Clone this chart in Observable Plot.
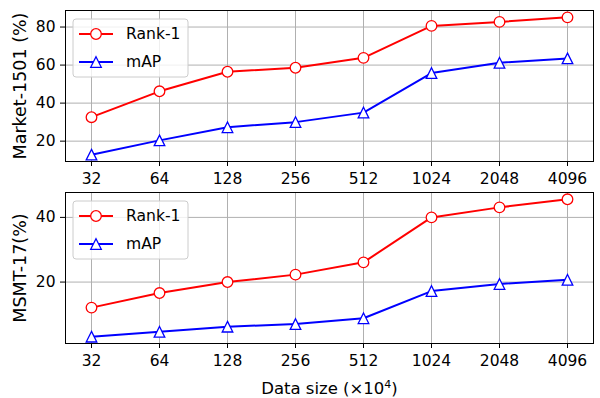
<!DOCTYPE html>
<html><head><meta charset="utf-8">
<script src="https://cdn.jsdelivr.net/npm/d3@7"></script>
<script src="https://cdn.jsdelivr.net/npm/@observablehq/plot@0.6"></script>
<style>
body{margin:0;background:#fff;}
#chart{position:relative;width:600px;height:398px;font-family:"DejaVu Sans";}
.panel{position:relative;width:600px;}
.panel svg{display:block;}
.panel svg.legend{position:absolute;left:0;top:0;pointer-events:none;}
</style></head><body><div id="chart"></div>
<script>
const sizes = ["32","64","128","256","512","1024","2048","4096"];
const seriesNames = ["Rank-1","mAP"];
const seriesColors = ["#ff0000","#0000ff"];
const marketRank1 = [32.6,46.2,56.5,58.6,63.8,80.6,82.7,85.1];
const marketMAP   = [12.9,20.4,27.3,30.0,35.0,55.8,61.2,63.5];
const msmtRank1   = [12.1,16.6,20.0,22.3,26.1,40.0,43.1,45.6];
const msmtMAP     = [3.1,4.6,6.2,7.0,8.8,17.2,19.4,20.7];
const marketTicks = [20,40,60,80];
const msmtTicks = [20,40];

const triangle = {draw(ctx, size){const r=Math.sqrt(size/Math.PI);ctx.moveTo(0,-r);ctx.lineTo(r,r);ctx.lineTo(-r,r);ctx.closePath();}};
const symbols = ["circle", triangle];

function panel({rank1, map, domain, ticks, label, height, marginTop, marginBottom, xLabel}){
  const series = [rank1, map];
  const data = series.flatMap((vals,k)=>sizes.map((s,i)=>({size:s,value:vals[i],series:seriesNames[k]})));
  const marks = [
    Plot.gridX(sizes,{stroke:"#b0b0b0",strokeOpacity:1,strokeWidth:1}),
    Plot.gridY(ticks,{stroke:"#b0b0b0",strokeOpacity:1,strokeWidth:1}),
  ];
  seriesNames.forEach((name,k)=>{
    const d = data.filter(r=>r.series===name);
    marks.push(Plot.line(d,{x:"size",y:"value",stroke:seriesColors[k],strokeWidth:2}));
    marks.push(Plot.dot(d,{x:"size",y:"value",r:5.3,symbol:symbols[k],fill:"white",stroke:seriesColors[k],strokeWidth:1.3}));
  });
  marks.push(Plot.frame({stroke:"black",strokeWidth:1}));
  marks.push(Plot.axisY(ticks,{tickSize:5,tickPadding:5,label,labelAnchor:"center",labelArrow:"none",labelOffset:52}));
  marks.push(Plot.axisX(sizes,{tickSize:5,tickPadding:6,label:xLabel??null,labelAnchor:"center",labelArrow:"none",labelOffset:50}));
  const p = Plot.plot({
    width:600,height,marginLeft:65,marginRight:7,marginTop,marginBottom,
    style:{fontFamily:"DejaVu Sans",fontSize:"15.5px",background:"white",color:"black",overflow:"visible"},
    x:{type:"point",domain:sizes,padding:0.35,label:null},
    y:{domain,label:null},
    marks
  });
  d3.select(p).selectAll("text").each(function(){
    const t = d3.select(this);
    const txt = t.text();
    if (txt === label) t.attr("font-size","17.5px");
    if (xLabel && txt === xLabel) {
      t.attr("font-size","16.5px");
      t.text(null);
      t.append("tspan").text(xLabel.slice(0,-2));
      t.append("tspan").attr("font-size","11px").attr("dy","-6px").text("4");
      t.append("tspan").attr("dy","6px").text(")");
    }
  });
  const wrap = document.createElement("div");
  wrap.className="panel";
  wrap.style.height=height+"px";
  wrap.appendChild(p);
  // legend
  const lg = d3.create("svg").attr("class","legend").attr("width",600).attr("height",height);
  const lx = 65+8, ly = marginTop+9;
  lg.append("rect").attr("x",lx).attr("y",ly).attr("width",115).attr("height",58).attr("rx",3)
    .attr("fill","white").attr("fill-opacity",0.8).attr("stroke","#cccccc").attr("stroke-width",1);
  seriesNames.forEach((name,k)=>{
    const y = ly+15+k*28;
    lg.append("line").attr("x1",lx+6).attr("x2",lx+40).attr("y1",y).attr("y2",y).attr("stroke",seriesColors[k]).attr("stroke-width",2);
    lg.append("path").attr("transform",`translate(${lx+23},${y})`)
      .attr("d",d3.symbol(k===0?d3.symbolCircle:triangle,5.3*5.3*Math.PI)())
      .attr("fill","white").attr("stroke",seriesColors[k]).attr("stroke-width",1.3);
    lg.append("text").attr("x",lx+53).attr("y",y).attr("dy","0.35em").attr("font-family","DejaVu Sans").attr("font-size","15.6px").text(name);
  });
  wrap.appendChild(lg.node());
  return wrap;
}

const chart = document.getElementById("chart");
chart.appendChild(panel({rank1:marketRank1,map:marketMAP,domain:[9.3,88.7],ticks:marketTicks,label:"Market-1501 (%)",height:190,marginTop:10,marginBottom:29}));
chart.appendChild(panel({rank1:msmtRank1,map:msmtMAP,domain:[1.0,47.7],ticks:msmtTicks,label:"MSMT-17(%)",height:208,marginTop:2,marginBottom:55,xLabel:"Data size (×10⁴)"}));
</script></body></html>
